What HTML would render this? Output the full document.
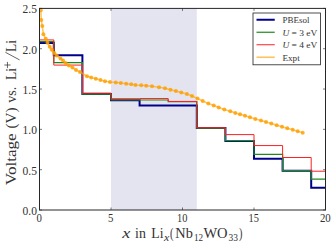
<!DOCTYPE html>
<html><head><meta charset="utf-8"><style>
html,body{margin:0;padding:0;background:#fff;}
body{width:336px;height:246px;overflow:hidden;}
svg{display:block;font-family:"Liberation Serif",serif;}
</style></head><body>
<svg width="336" height="246" viewBox="0 0 336 246">
<rect width="336" height="246" fill="#fff"/>
<defs><clipPath id="c"><rect x="39.5" y="8.4" width="286.0" height="201.6"/></clipPath></defs>
<rect x="111.00" y="8.4" width="85.80" height="201.6" fill="#e4e4f1"/>
<g clip-path="url(#c)" fill="none">
<path d="M39.50,43.08H53.80V55.17H82.40V94.12H111.00V100.25H139.60V105.57H168.20V105.57H196.80V128.07H225.40V140.89H254.00V158.79H282.60V170.81H311.20V187.82H325.50" stroke="#00008b" stroke-width="2"/>
<path d="M39.50,41.62H53.80V62.59H82.40V94.12H111.00V99.93H139.60V100.01H168.20V101.70H196.80V128.07H225.40V140.65H254.00V154.36H282.60V170.65H311.20V179.20H325.50" stroke="#1e8a1e" stroke-width="1.2"/>
<path d="M39.50,39.93H53.80V65.09H82.40V93.07H111.00V98.72H139.60V98.56H168.20V101.46H196.80V127.75H225.40V134.60H254.00V145.57H282.60V157.50H311.20V171.21H325.50" stroke="#ff2020" stroke-width="1"/>
<polyline points="40.8,10.3 41.3,20.1 42.3,26.1 43.4,34.2 45.8,38.8 47.5,42.7 49.7,46.7 51.8,49.7 54.3,53.0 56.7,55.5 60.5,58.5 63.0,60.5 65.5,63.0 68.8,65.5 72.5,67.6 76.0,70.0 80.0,72.0 87.0,76.2 91.2,77.5 95.8,78.8 100.5,80.0 105.0,81.2 110.0,82.0 115.8,82.5 120.8,83.0 126.2,83.8 131.2,84.2 135.5,85.0 141.2,85.3 146.2,85.8 152.0,86.3 159.0,87.3 165.0,88.3 170.5,89.8 175.9,91.1 181.3,92.5 186.9,94.1 192.0,96.1 197.5,98.5 202.7,101.0 208.3,103.4 213.7,105.6 218.7,107.6 224.3,109.5 230.3,111.3 235.3,112.9 240.0,114.3 245.0,115.8 250.0,117.3 255.3,118.9 261.0,120.6 266.0,122.1 271.3,123.6 276.7,125.2 282.0,126.7 287.3,128.2 292.7,129.8 297.7,131.2 302.7,132.7" stroke="#ffa500" stroke-opacity="0.62" stroke-width="1.6"/>
<g fill="#ffa000" fill-opacity="0.82" stroke="none"><circle cx="40.8" cy="10.3" r="2"/><circle cx="41.3" cy="20.1" r="2"/><circle cx="42.3" cy="26.1" r="2"/><circle cx="43.4" cy="34.2" r="2"/><circle cx="45.8" cy="38.8" r="2"/><circle cx="47.5" cy="42.7" r="2"/><circle cx="49.7" cy="46.7" r="2"/><circle cx="51.8" cy="49.7" r="2"/><circle cx="54.3" cy="53.0" r="2"/><circle cx="56.7" cy="55.5" r="2"/><circle cx="60.5" cy="58.5" r="2"/><circle cx="63.0" cy="60.5" r="2"/><circle cx="65.5" cy="63.0" r="2"/><circle cx="68.8" cy="65.5" r="2"/><circle cx="72.5" cy="67.6" r="2"/><circle cx="76.0" cy="70.0" r="2"/><circle cx="80.0" cy="72.0" r="2"/><circle cx="87.0" cy="76.2" r="2"/><circle cx="91.2" cy="77.5" r="2"/><circle cx="95.8" cy="78.8" r="2"/><circle cx="100.5" cy="80.0" r="2"/><circle cx="105.0" cy="81.2" r="2"/><circle cx="110.0" cy="82.0" r="2"/><circle cx="115.8" cy="82.5" r="2"/><circle cx="120.8" cy="83.0" r="2"/><circle cx="126.2" cy="83.8" r="2"/><circle cx="131.2" cy="84.2" r="2"/><circle cx="135.5" cy="85.0" r="2"/><circle cx="141.2" cy="85.3" r="2"/><circle cx="146.2" cy="85.8" r="2"/><circle cx="152.0" cy="86.3" r="2"/><circle cx="159.0" cy="87.3" r="2"/><circle cx="165.0" cy="88.3" r="2"/><circle cx="170.5" cy="89.8" r="2"/><circle cx="175.9" cy="91.1" r="2"/><circle cx="181.3" cy="92.5" r="2"/><circle cx="186.9" cy="94.1" r="2"/><circle cx="192.0" cy="96.1" r="2"/><circle cx="197.5" cy="98.5" r="2"/><circle cx="202.7" cy="101.0" r="2"/><circle cx="208.3" cy="103.4" r="2"/><circle cx="213.7" cy="105.6" r="2"/><circle cx="218.7" cy="107.6" r="2"/><circle cx="224.3" cy="109.5" r="2"/><circle cx="230.3" cy="111.3" r="2"/><circle cx="235.3" cy="112.9" r="2"/><circle cx="240.0" cy="114.3" r="2"/><circle cx="245.0" cy="115.8" r="2"/><circle cx="250.0" cy="117.3" r="2"/><circle cx="255.3" cy="118.9" r="2"/><circle cx="261.0" cy="120.6" r="2"/><circle cx="266.0" cy="122.1" r="2"/><circle cx="271.3" cy="123.6" r="2"/><circle cx="276.7" cy="125.2" r="2"/><circle cx="282.0" cy="126.7" r="2"/><circle cx="287.3" cy="128.2" r="2"/><circle cx="292.7" cy="129.8" r="2"/><circle cx="297.7" cy="131.2" r="2"/><circle cx="302.7" cy="132.7" r="2"/></g>
</g>
<g stroke="#222" stroke-width="0.6" fill="none"><path d="M39.50,210.0v-2.5M39.50,8.4v2.5"/><path d="M111.00,210.0v-2.5M111.00,8.4v2.5"/><path d="M182.50,210.0v-2.5M182.50,8.4v2.5"/><path d="M254.00,210.0v-2.5M254.00,8.4v2.5"/><path d="M325.50,210.0v-2.5M325.50,8.4v2.5"/><path d="M39.5,210.00h2.5M325.5,210.00h-2.5"/><path d="M39.5,169.68h2.5M325.5,169.68h-2.5"/><path d="M39.5,129.36h2.5M325.5,129.36h-2.5"/><path d="M39.5,89.04h2.5M325.5,89.04h-2.5"/><path d="M39.5,48.72h2.5M325.5,48.72h-2.5"/><path d="M39.5,8.40h2.5M325.5,8.40h-2.5"/></g>
<rect x="39.5" y="8.4" width="286.0" height="201.6" fill="none" stroke="#262626" stroke-width="1"/>
<g font-size="12px" fill="#333"><text x="36.6" y="221.8" textLength="5.4" lengthAdjust="spacingAndGlyphs">0</text><text x="108.1" y="221.8" textLength="5.4" lengthAdjust="spacingAndGlyphs">5</text><text x="177.1" y="221.8" textLength="10.4" lengthAdjust="spacingAndGlyphs">10</text><text x="248.6" y="221.8" textLength="10.4" lengthAdjust="spacingAndGlyphs">15</text><text x="319.9" y="221.8" textLength="10.8" lengthAdjust="spacingAndGlyphs">20</text><text x="22.5" y="214.9" textLength="14.4" lengthAdjust="spacingAndGlyphs">0.0</text><text x="22.5" y="174.6" textLength="14.4" lengthAdjust="spacingAndGlyphs">0.5</text><text x="22.5" y="134.3" textLength="14.4" lengthAdjust="spacingAndGlyphs">1.0</text><text x="22.5" y="93.9" textLength="14.4" lengthAdjust="spacingAndGlyphs">1.5</text><text x="22.5" y="53.6" textLength="14.4" lengthAdjust="spacingAndGlyphs">2.0</text><text x="22.5" y="13.3" textLength="14.4" lengthAdjust="spacingAndGlyphs">2.5</text></g>
<g transform="rotate(-90)" fill="#333"><text x="-185.2" y="15.9" textLength="51.8" lengthAdjust="spacingAndGlyphs" font-size="15.3px">Voltage</text><text x="-128.6" y="15.9" textLength="21.1" lengthAdjust="spacingAndGlyphs" font-size="15.3px">(V)</text><text x="-102.8" y="15.9" textLength="16.0" lengthAdjust="spacingAndGlyphs" font-size="15.3px">vs.</text><text x="-80.0" y="15.9" textLength="12.0" lengthAdjust="spacingAndGlyphs" font-size="15.3px">Li</text><text x="-52.0" y="15.9" textLength="12.0" lengthAdjust="spacingAndGlyphs" font-size="15.3px">Li</text></g>
<g stroke="#333" stroke-width="0.75" fill="none"><path d="M19.6,59.9L5.4,52.3"/><path d="M7.45,61.9V68.1M4.35,65H10.55"/></g>
<g fill="#333"><text x="122.2" y="237.5" textLength="8.1" lengthAdjust="spacingAndGlyphs" font-size="15.3px" font-style="italic">x</text><text x="135.1" y="237.5" textLength="10.8" lengthAdjust="spacingAndGlyphs" font-size="15.3px">in</text><text x="151.3" y="237.5" textLength="12.2" lengthAdjust="spacingAndGlyphs" font-size="15.3px">Li</text><text x="163.9" y="240.8" textLength="5.3" lengthAdjust="spacingAndGlyphs" font-size="10.4px" font-style="italic">x</text><text x="170.1" y="237.5" textLength="3.5" lengthAdjust="spacingAndGlyphs" font-size="15.3px">(</text><text x="175.3" y="237.5" textLength="17.5" lengthAdjust="spacingAndGlyphs" font-size="15.3px">Nb</text><text x="193.9" y="240.8" textLength="9.1" lengthAdjust="spacingAndGlyphs" font-size="10.4px">12</text><text x="203.4" y="237.5" textLength="24.2" lengthAdjust="spacingAndGlyphs" font-size="15.3px">WO</text><text x="228.6" y="240.8" textLength="9.4" lengthAdjust="spacingAndGlyphs" font-size="10.4px">33</text><text x="238.9" y="237.5" textLength="3.4" lengthAdjust="spacingAndGlyphs" font-size="15.3px">)</text></g>
<rect x="253" y="13" width="67.5" height="51.8" fill="#fff" stroke="#222" stroke-width="0.8"/>
<g fill="none">
<path d="M256.5,19.75H274.75" stroke="#00008b" stroke-width="2"/>
<path d="M256.5,32.25H274.75" stroke="#1e8a1e" stroke-width="1.2"/>
<path d="M256.5,44.75H274.75" stroke="#ff2020" stroke-width="1"/>
<path d="M256.5,57.25H274.75" stroke="#ffc25e" stroke-width="1.6"/>
</g>
<g font-size="9px" fill="#333">
<text x="282.4" y="23" textLength="27" lengthAdjust="spacingAndGlyphs">PBEsol</text>
<text x="282.4" y="35.5" textLength="35" lengthAdjust="spacingAndGlyphs"><tspan font-style="italic">U</tspan> = 3 eV</text>
<text x="282.4" y="48" textLength="35" lengthAdjust="spacingAndGlyphs"><tspan font-style="italic">U</tspan> = 4 eV</text>
<text x="282.4" y="60.5" textLength="17.3" lengthAdjust="spacingAndGlyphs">Expt</text>
</g>
</svg>
</body></html>
